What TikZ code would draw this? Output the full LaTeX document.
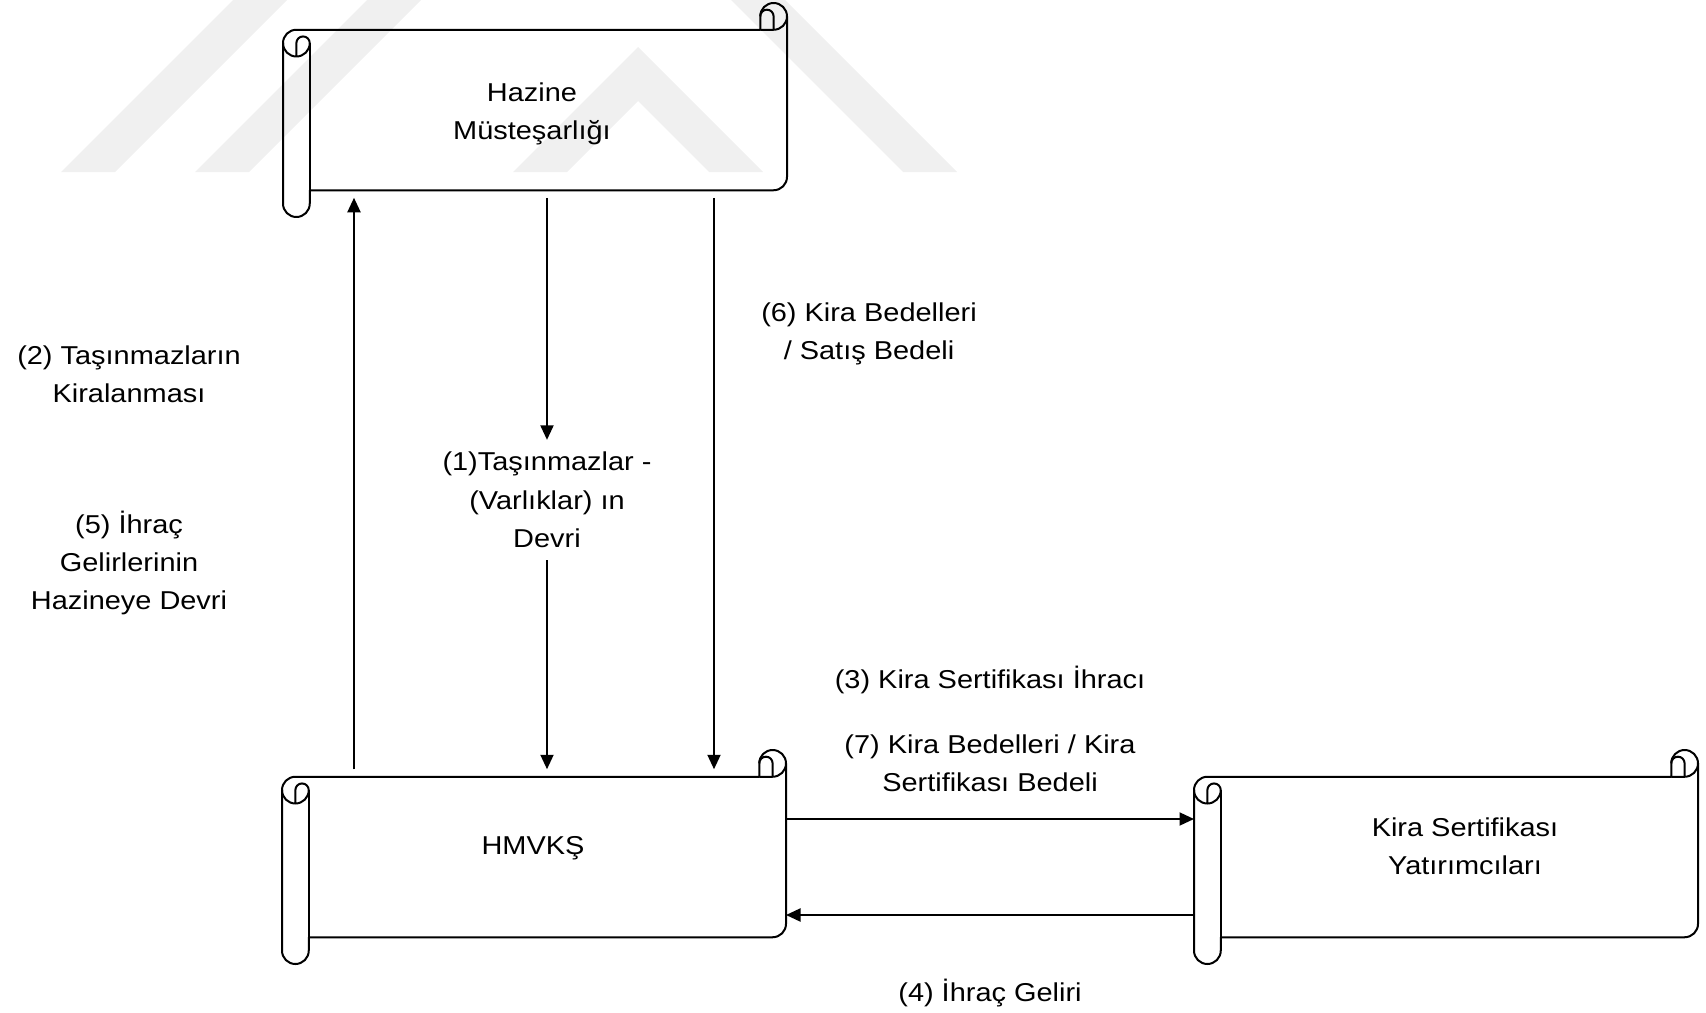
\documentclass[tikz,border=0pt]{standalone}
\usepackage{fontspec}
\setmainfont{Liberation Sans}[FakeStretch=1.12]
\usetikzlibrary{positioning,arrows.meta,calc}

\tikzset{
    scrollline/.style={line width=0.4mm, line join=round},
    scrollbody/.style={draw=none, inner sep=0pt, outer xsep=0pt, outer ysep=1.5mm,
        minimum width=100.8mm, minimum height=32.1mm},
    lbl/.style={align=center, inner sep=0pt, font=\fontsize{14.7}{21.8}\selectfont},
    flow/.style={->, line width=0.4mm},
    wmark/.style={fill=black!6, draw=none},
}

% scroll shape, 504 x 214, roll = 1/8 of the height
\newcommand{\drawscroll}[3]{
    \begin{scope}[shift={(#2,#3)}]
        \draw[scrollline] (0,40.125) arc[start angle=180, end angle=270, radius=13.375]
            -- (477.25,26.75) -- (477.25,13.375)
            arc[start angle=180, end angle=360, radius=13.375]
            -- (504,173.875) arc[start angle=0, end angle=90, radius=13.375]
            -- (26.75,187.25) -- (26.75,200.625)
            arc[start angle=0, end angle=180, radius=13.375] -- cycle;
        % right curl
        \draw[scrollline] (477.25,26.75) -- (490.625,26.75)
            arc[start angle=90, end angle=0, radius=13.375];
        \draw[scrollline] (490.625,26.75) -- (490.625,13.375)
            arc[start angle=0, end angle=-180, radius=6.6875];
        % left roll
        \draw[scrollline] (13.375,53.5) -- (13.375,40.125)
            arc[start angle=180, end angle=360, radius=6.6875]
            arc[start angle=0, end angle=180, radius=13.375];
        \draw[scrollline] (26.75,40.125) -- (26.75,187.25);
        \node[scrollbody] (#1) at (252,107) {};
    \end{scope}
}

\begin{document}
\begin{tikzpicture}[x=0.2mm,y=-0.2mm,>={Triangle[length=2.9mm,width=2.6mm]}]

\useasboundingbox (0,0) rectangle (1706,1013);

% -------------------------
% Watermark
% -------------------------
\fill[wmark] (61,172) -- (115,172) -- (287,0) -- (233,0) -- cycle;
\fill[wmark] (195,172) -- (249,172) -- (421,0) -- (367,0) -- cycle;
\fill[wmark] (513,172) -- (638,47) -- (763,172) -- (709,172) -- (638,101) -- (567,172) -- cycle;
\fill[wmark] (903,172) -- (957,172) -- (785,0) -- (731,0) -- cycle;

% -------------------------
% Scrolls
% -------------------------
\drawscroll{hazine}{283}{3}
\drawscroll{hmvks}{282}{750}
\drawscroll{kira}{1194}{750}

\node[lbl] (hazine-t) at (532,114) {Hazine\\Müsteşarlığı};
\node[lbl] (hmvks-t) at (533,848) {HMVKŞ};
\node[lbl] (kira-t) at (1465,846) {Kira Sertifikası\\Yatırımcıları};

% -------------------------
% Labels
% -------------------------
\node[lbl, inner ysep=2.4mm] (l1) at (547,500) {(1)Taşınmazlar -\\(Varlıklar) ın\\Devri};
\node[lbl] (l2) at (129,374) {(2) Taşınmazların\\Kiralanması};
\node[lbl] (l5) at (129,563) {(5) İhraç\\Gelirlerinin\\Hazineye Devri};
\node[lbl] (l6) at (869,334) {(6) Kira Bedelleri\\/ Satış Bedeli};
\node[lbl] (l3) at (990,680) {(3) Kira Sertifikası İhracı};
\node[lbl] (l7) at (990,763) {(7) Kira Bedelleri / Kira\\Sertifikası Bedeli};
\node[lbl] (l4) at (990,993) {(4) İhraç Geliri};

% -------------------------
% Flows
% -------------------------
\coordinate (up2) at ([xshift=14.4mm]hmvks.north west);
\draw[flow] (up2) -- (up2 |- hazine.south);

\draw[flow] (hazine.south -| l1.north) -- (l1.north);
\draw[flow] (l1.south) -- (l1.south |- hmvks.north);

\coordinate (dn6) at ([xshift=86.2mm]hazine.south west);
\draw[flow] (dn6) -- (dn6 |- hmvks.north);

\coordinate (out7) at ([yshift=7.6mm]hmvks.east);
\draw[flow] (out7) -- (out7 -| kira.west);

\coordinate (in4) at ([yshift=-11.6mm]kira.west);
\draw[flow] (in4) -- (in4 -| hmvks.east);

\end{tikzpicture}
\end{document}
